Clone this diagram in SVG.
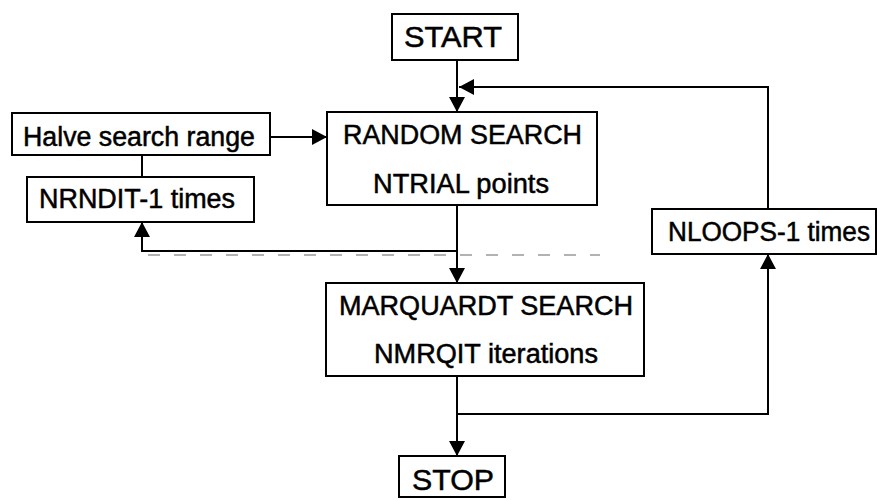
<svg xmlns="http://www.w3.org/2000/svg" width="877" height="500" viewBox="0 0 877 500">
  <style>
    .box { fill: #ffffff; stroke: #000000; stroke-width: 2; }
    .lbl { font-family: "Liberation Sans", Arial, sans-serif; font-size: 27px; fill: #000000; stroke: #000000; stroke-width: 0.5; }
    .big { font-size: 30px; }
    .conn { fill: none; stroke: #000000; stroke-width: 2; }
    .artifact { fill: none; stroke: #555555; stroke-width: 1.5; stroke-dasharray: 12 14; opacity: 0.6; }
  </style>
  <defs>
    <marker id="arrow" viewBox="0 0 15 16" refX="15" refY="8" markerWidth="15" markerHeight="16" markerUnits="userSpaceOnUse" orient="auto">
      <path d="M0,0 L15,8 L0,16 Z" fill="#000000"/>
    </marker>
  </defs>
  <rect width="877" height="500" fill="#ffffff"/>

  <g id="connectors">
    <path class="conn" d="M457,60 L457,112" marker-end="url(#arrow)"/>
    <path class="conn" d="M768,209 L768,87 L459,87" marker-end="url(#arrow)"/>
    <path class="conn" d="M270,137 L327,137" marker-end="url(#arrow)"/>
    <path class="conn" d="M142,155 L142,177"/>
    <path class="conn" d="M457,205 L457,283" marker-end="url(#arrow)"/>
    <path class="conn" d="M457,251 L142,251 L142,222" marker-end="url(#arrow)"/>
    <path class="conn" d="M457,376 L457,456" marker-end="url(#arrow)"/>
    <path class="conn" d="M457,414 L768,414 L768,254" marker-end="url(#arrow)"/>
    <path class="artifact" d="M148,255 L600,255"/>
  </g>

  <g id="start">
    <rect class="box" x="392" y="14" width="126" height="46"/>
    <text class="lbl big" x="404" y="47" textLength="98" lengthAdjust="spacingAndGlyphs">START</text>
  </g>
  <g id="halve">
    <rect class="box" x="12" y="113" width="258" height="42"/>
    <text class="lbl" x="23" y="146" textLength="232" lengthAdjust="spacingAndGlyphs">Halve search range</text>
  </g>
  <g id="nrndit">
    <rect class="box" x="27" y="177" width="227" height="45"/>
    <text class="lbl" x="39" y="208" textLength="196" lengthAdjust="spacingAndGlyphs">NRNDIT-1 times</text>
  </g>
  <g id="random">
    <rect class="box" x="327" y="112" width="270" height="93"/>
    <text class="lbl" x="343" y="144" textLength="239" lengthAdjust="spacingAndGlyphs">RANDOM SEARCH</text>
    <text class="lbl" x="373" y="193" textLength="176" lengthAdjust="spacingAndGlyphs">NTRIAL points</text>
  </g>
  <g id="nloops">
    <rect class="box" x="652" y="209" width="224" height="45"/>
    <text class="lbl" x="668" y="241" textLength="202" lengthAdjust="spacingAndGlyphs">NLOOPS-1 times</text>
  </g>
  <g id="marquardt">
    <rect class="box" x="326" y="283" width="318" height="93"/>
    <text class="lbl" x="339" y="315" textLength="294" lengthAdjust="spacingAndGlyphs">MARQUARDT SEARCH</text>
    <text class="lbl" x="374" y="363" textLength="224" lengthAdjust="spacingAndGlyphs">NMRQIT iterations</text>
  </g>
  <g id="stop">
    <rect class="box" x="399" y="456" width="106" height="41"/>
    <text class="lbl big" x="412" y="490" textLength="82" lengthAdjust="spacingAndGlyphs">STOP</text>
  </g>
</svg>
